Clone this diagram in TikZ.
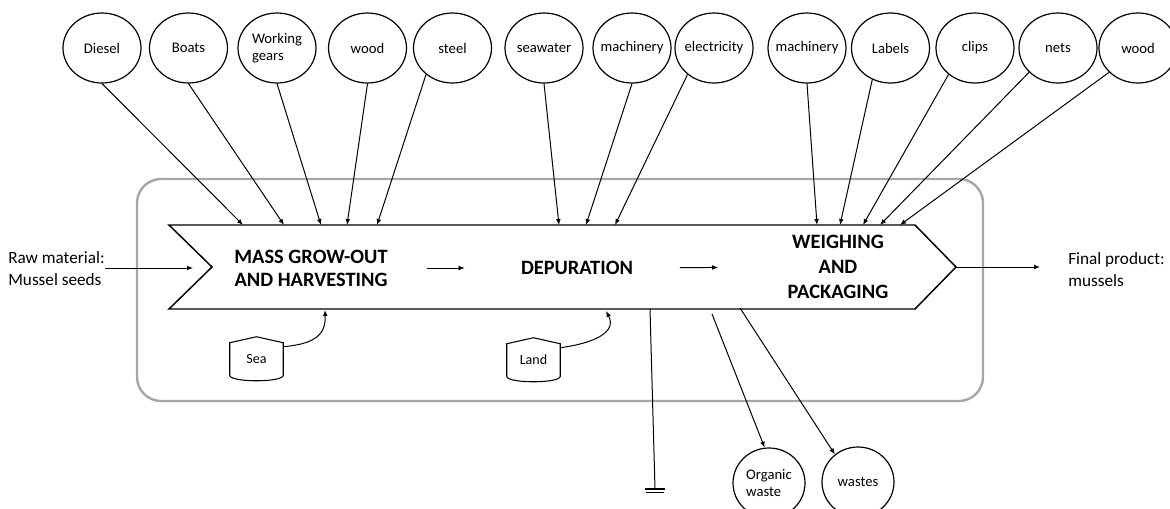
\documentclass[tikz,border=0pt]{standalone}
\usepackage{fontspec}
\setmainfont{Carlito}
\usepackage{tikz}
\usetikzlibrary{positioning, arrows.meta, shapes.geometric}
\definecolor{FrameGray}{RGB}{166,166,166}

% outline of the small storage symbol round a node
\newcommand{\tankoutline}[1]{%
  \draw[line width=0.8pt] (#1.north west) -- ([yshift=4.5pt]#1.north) -- (#1.north east) -- (#1.south east)
    .. controls ([yshift=-5.5pt]#1.south east) and ([yshift=-5.5pt]#1.south west) .. (#1.south west) -- cycle;}

\begin{document}
\begin{tikzpicture}[x=0.75pt, y=-0.75pt,
    res/.style={draw, ellipse, line width=0.9pt, minimum width=58.5pt, minimum height=52.5pt, inner xsep=-4pt, inner ysep=0pt, font=\fontsize{11}{13}\selectfont},
    waste/.style={res, minimum width=54pt},
    proc/.style={inner sep=0pt, align=center, font=\fontsize{15.3}{17.4}\selectfont\bfseries},
    side/.style={inner sep=0pt, align=left, font=\fontsize{12.9}{16.5}\selectfont},
    tank/.style={minimum width=39.75pt, minimum height=24pt, inner sep=0pt, font=\fontsize{10.5}{12}\selectfont},
    feed/.style={-{Latex[length=4.5pt, width=3.6pt]}, line width=0.75pt}]
  \clip (0,0) rectangle (1170,508);

  % system frame
  \draw[FrameGray, line width=1.8pt, rounded corners=18pt] (137,179) rectangle (983,401);

  % process band
  \coordinate (notch) at (212,267);
  \coordinate (tip) at (956,267);
  \draw[line width=1.1pt] (169,225) -- (915,225) -- (tip) -- (915,309) -- (169,309) -- (notch) -- cycle;

  \node[proc] (mass) at (311,268) {MASS GROW-OUT\\AND HARVESTING};
  \node[proc] (dep) at (577,268) {DEPURATION};
  \node[proc, font=\fontsize{15.3}{18.75}\selectfont\bfseries] (weigh) at (838,267) {WEIGHING\\AND\\PACKAGING};
  \draw[feed, shorten <=29pt, shorten >=42pt] (mass) -- (dep);
  \draw[feed, shorten <=35pt, shorten >=52pt] (dep) -- (weigh);

  % inputs
  \node[res] (diesel) at (102,48) {Diesel};
  \node[res] (boats) at (188.5,48) {Boats};
  \node[res, align=left] (gears) at (277,48) {Working\\gears};
  \node[res] (wood) at (367.5,48) {wood};
  \node[res] (steel) at (452.5,48) {steel};
  \node[res] (seawater) at (544,48) {seawater};
  \node[res] (mach) at (632,48) {machinery};
  \node[res] (elec) at (714,48) {electricity};
  \node[res] (machb) at (807,48) {machinery};
  \node[res] (labels) at (890.5,48) {Labels};
  \node[res] (clips) at (975,48) {clips};
  \node[res] (nets) at (1058,48) {nets};
  \node[res] (woodb) at (1138,48) {wood};

  \coordinate (in1) at (243,225);
  \coordinate (in2) at (284,225);
  \coordinate (in3) at (321,225);
  \coordinate (in4) at (347,225);
  \coordinate (in5) at (377,225);
  \coordinate (in6) at (559,225);
  \coordinate (in7) at (586,225);
  \coordinate (in8) at (615,225);
  \coordinate (in9) at (817,225);
  \coordinate (in10) at (840,225);
  \coordinate (in11) at (863,225);
  \coordinate (in12) at (880,225);
  \coordinate (in13) at (900,225);

  \draw[feed] (diesel.south) -- (in1);
  \draw[feed] (boats.south) -- (in2);
  \draw[feed] (gears.south) -- (in3);
  \draw[feed] (wood.south) -- (in4);
  \draw[feed] (steel.225) -- (in5);
  \draw[feed] (seawater.south) -- (in6);
  \draw[feed] (mach.south) -- (in7);
  \draw[feed] (elec.225) -- (in8);
  \draw[feed] (machb.south) -- (in9);
  \draw[feed] (labels.240) -- (in10);
  \draw[feed] (clips.225) -- (in11);
  \draw[feed] (nets.220) -- (in12);
  \draw[feed] (woodb.220) -- (in13);

  % raw material and product
  \node[side, anchor=west] (raw) at (8,269) {Raw material:\\Mussel seeds};
  \coordinate (rawin) at (193,268);
  \draw[feed] (raw.east |- rawin) -- (rawin);
  \node[side, anchor=west] (product) at (1068,270) {Final product:\\mussels};
  \draw[feed, shorten >=21pt] (tip) -- (tip -| product.west);

  % land use
  \node[tank] (sea) at (256.5,359) {Sea};
  \tankoutline{sea}
  \coordinate (seain) at (325,310);
  \draw[feed] ([yshift=-3pt]sea.north east) .. controls (313,344) and (326,336) .. (seain);
  \node[tank] (land) at (533.5,360) {Land};
  \tankoutline{land}
  \coordinate (landin) at (606,311);
  \draw[feed] ([yshift=-3pt]land.north east) .. controls (595,343) and (617,332) .. (landin);

  % emissions
  \coordinate (drain) at (650,309);
  \coordinate (earth) at (655,489);
  \draw[line width=0.75pt] (drain) -- (earth);
  \draw[line width=0.9pt] ([xshift=-7.5pt]earth) -- ([xshift=7.5pt]earth);
  \draw[line width=0.9pt] ([xshift=-7pt, yshift=-2.6pt]earth) -- ([xshift=7pt, yshift=-2.6pt]earth);

  \node[waste, align=left] (organic) at (769,483) {Organic\\waste};
  \node[waste] (wastes) at (858,482) {wastes};
  \coordinate (out1) at (712,314);
  \coordinate (out2) at (740,308);
  \draw[feed] (out1) -- (organic.97);
  \draw[feed] (out2) -- (wastes.130);
\end{tikzpicture}
\end{document}
